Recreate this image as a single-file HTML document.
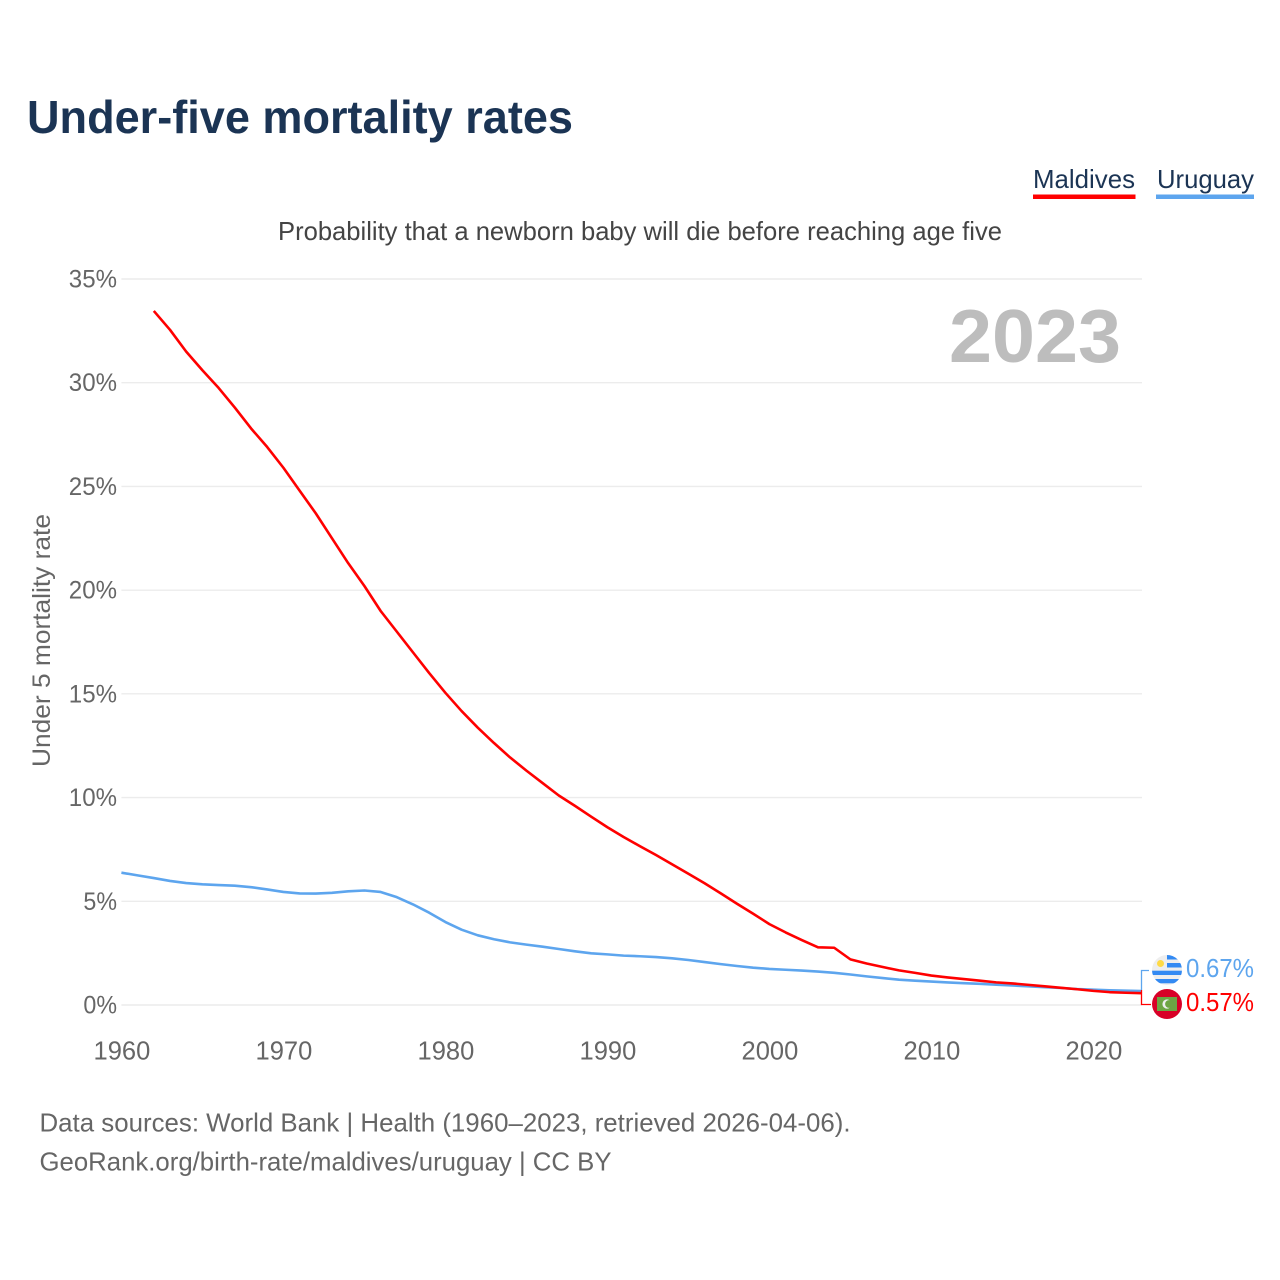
<!DOCTYPE html>
<html lang="en">
<head>
<meta charset="utf-8">
<title>Under-five mortality rates</title>
<style>
html,body{margin:0;padding:0;background:#fff;width:1280px;height:1280px;overflow:hidden}
svg{display:block}
text{font-family:"Liberation Sans",sans-serif}
</style>
</head>
<body>
<svg id="chart" xmlns="http://www.w3.org/2000/svg" width="1280" height="1280" viewBox="0 0 1280 1280">
  <rect width="1280" height="1280" fill="#fff"/>
  <text x="27" y="133" font-size="46" font-weight="700" fill="#1b3454" textLength="546" lengthAdjust="spacingAndGlyphs">Under-five mortality rates</text>

  <g>
    <text x="1033" y="188" font-size="26" fill="#1b3454" textLength="102" lengthAdjust="spacingAndGlyphs">Maldives</text>
    <rect x="1033" y="194.5" width="102.5" height="4.5" fill="#ff0000"/>
  </g>
  <g>
    <text x="1157" y="188" font-size="26" fill="#1b3454" textLength="97" lengthAdjust="spacingAndGlyphs">Uruguay</text>
    <rect x="1156" y="194.5" width="98" height="4.5" fill="#5da5ee"/>
  </g>

  <text x="278" y="240" font-size="26" fill="#444" textLength="724" lengthAdjust="spacingAndGlyphs">Probability that a newborn baby will die before reaching age five</text>

  <text transform="translate(50,767) rotate(-90)" font-size="25" fill="#666" textLength="253" lengthAdjust="spacingAndGlyphs">Under 5 mortality rate</text>

  <g id="grid"></g>
  <g id="yticks"></g>
  <g id="xticks"></g>

  <text x="949" y="362" font-size="75" font-weight="700" fill="#bdbdbd" textLength="172" lengthAdjust="spacingAndGlyphs">2023</text>

  <g id="lines"></g>

  <path d="M1141.5 990V970.5H1149" fill="none" stroke="#5da5ee" stroke-width="1.3"/>
  <path d="M1141.5 990V1004.5H1151" fill="none" stroke="#ff0000" stroke-width="1.3"/>

  <defs>
    <clipPath id="clip-uy"><circle cx="1167" cy="970" r="15"/></clipPath>
    <clipPath id="clip-mv"><circle cx="1167" cy="1004" r="15"/></clipPath>
  </defs>
  <g clip-path="url(#clip-uy)">
    <rect x="1152" y="955" width="30" height="30" fill="#eeeeee"/>
    <rect x="1167" y="955" width="15" height="4.5" fill="#338af3"/>
    <rect x="1167" y="963" width="15" height="4.5" fill="#338af3"/>
    <rect x="1152" y="970.7" width="30" height="4.3" fill="#338af3"/>
    <rect x="1152" y="979" width="30" height="4.3" fill="#338af3"/>
    <circle cx="1160.5" cy="963.5" r="3.5" fill="#ffda44"/>
  </g>
  <g clip-path="url(#clip-mv)">
    <rect x="1152" y="989" width="30" height="30" fill="#d80027"/>
    <rect x="1157" y="997" width="20" height="14" fill="#6da544"/>
    <circle cx="1167" cy="1004" r="4.6" fill="#eeeeee"/>
    <circle cx="1169" cy="1004" r="3.9" fill="#6da544"/>
  </g>

  <text x="1186" y="977" font-size="25.5" fill="#5da5ee" textLength="68" lengthAdjust="spacingAndGlyphs">0.67%</text>
  <text x="1186" y="1011" font-size="25.5" fill="#ff0000" textLength="68" lengthAdjust="spacingAndGlyphs">0.57%</text>

  <text x="39.5" y="1131.5" font-size="26" fill="#666" textLength="811" lengthAdjust="spacingAndGlyphs">Data sources: World Bank | Health (1960–2023, retrieved 2026-04-06).</text>
  <text x="39.5" y="1170.5" font-size="26" fill="#666" textLength="572" lengthAdjust="spacingAndGlyphs">GeoRank.org/birth-rate/maldives/uruguay | CC BY</text>
</svg>
<script>
const yearStart = 1960;
const yearEnd = 2023;
const maldivesFirstYear = 1962;
const xTickYears = [1960, 1970, 1980, 1990, 2000, 2010, 2020];
const yTickValues = [0, 5, 10, 15, 20, 25, 30, 35];
const maldivesValues = [33.46, 32.55, 31.5, 30.6, 29.75, 28.8, 27.8, 26.9, 25.9, 24.8, 23.7, 22.5, 21.3, 20.2, 19.0, 18.0, 17.0, 16.0, 15.05, 14.17, 13.37, 12.63, 11.93, 11.3, 10.7, 10.1, 9.6, 9.08, 8.57, 8.1, 7.66, 7.23, 6.78, 6.33, 5.87, 5.38, 4.88, 4.4, 3.9, 3.5, 3.13, 2.78, 2.76, 2.2, 2.0, 1.83, 1.67, 1.55, 1.42, 1.33, 1.25, 1.17, 1.09, 1.04, 0.97, 0.9, 0.83, 0.76, 0.68, 0.62, 0.59, 0.57];
const uruguayValues = [6.38, 6.25, 6.12, 5.98, 5.88, 5.82, 5.78, 5.75, 5.68, 5.57, 5.45, 5.38, 5.37, 5.41, 5.48, 5.52, 5.45, 5.2, 4.85, 4.45, 4.0, 3.63, 3.36, 3.17, 3.02, 2.91, 2.81, 2.7, 2.59, 2.49, 2.44, 2.38, 2.35, 2.31, 2.25, 2.17, 2.07, 1.97, 1.88, 1.8, 1.74, 1.7, 1.66, 1.61, 1.55, 1.47, 1.38, 1.3, 1.22, 1.17, 1.13, 1.09, 1.05, 1.02, 0.98, 0.94, 0.9, 0.86, 0.82, 0.77, 0.74, 0.71, 0.69, 0.67];

const SVG_NS = 'http://www.w3.org/2000/svg';
const plotLeft = 121.4;
const plotRight = 1142;
const plotBottom = 1005;
const plotTop = 279;
const yMax = 35;

function xScale(year) {
  return plotLeft + (year - yearStart) * (plotRight - plotLeft) / (yearEnd - yearStart);
}
function yScale(value) {
  return plotBottom - value * (plotBottom - plotTop) / yMax;
}

const grid = document.getElementById('grid');
const yticks = document.getElementById('yticks');
const xticks = document.getElementById('xticks');
const lines = document.getElementById('lines');

yTickValues.forEach(function (v) {
  const line = document.createElementNS(SVG_NS, 'line');
  
  
  line.setAttribute('x1', plotLeft);
  line.setAttribute('x2', plotRight);
  line.setAttribute('y1', yScale(v));
  line.setAttribute('y2', yScale(v));
  line.setAttribute('stroke', '#ececec');
  line.setAttribute('stroke-width', '1.4');
  grid.appendChild(line);

  const label = document.createElementNS(SVG_NS, 'text');
  
  
  label.setAttribute('x', 117);
  label.setAttribute('y', yScale(v) + 8.5);
  label.setAttribute('text-anchor', 'end');
  label.setAttribute('font-size', '25');
  label.setAttribute('fill', '#666');
  label.setAttribute('textLength', 19 + 14.6 * String(v).length);
  label.setAttribute('lengthAdjust', 'spacingAndGlyphs');
  label.textContent = v + '%';
  yticks.appendChild(label);
});

xTickYears.forEach(function (year) {
  const label = document.createElementNS(SVG_NS, 'text');
  
  
  label.setAttribute('x', xScale(year) + 0.5);
  label.setAttribute('y', 1059.5);
  label.setAttribute('text-anchor', 'middle');
  label.setAttribute('font-size', '25.5');
  label.setAttribute('fill', '#666');
  label.textContent = year;
  xticks.appendChild(label);
});

function buildPath(values, firstYear) {
  return values.map(function (v, i) {
    return (i === 0 ? 'M' : 'L') + xScale(firstYear + i).toFixed(2) + ' ' + yScale(v).toFixed(2);
  }).join('');
}

const maldivesLine = document.createElementNS(SVG_NS, 'path');


maldivesLine.setAttribute('d', buildPath(maldivesValues, maldivesFirstYear));
maldivesLine.setAttribute('fill', 'none');
maldivesLine.setAttribute('stroke', '#ff0000');
maldivesLine.setAttribute('stroke-width', '2.6');
maldivesLine.setAttribute('stroke-linejoin', 'round');
lines.appendChild(maldivesLine);

const uruguayLine = document.createElementNS(SVG_NS, 'path');


uruguayLine.setAttribute('d', buildPath(uruguayValues, yearStart));
uruguayLine.setAttribute('fill', 'none');
uruguayLine.setAttribute('stroke', '#5da5ee');
uruguayLine.setAttribute('stroke-width', '2.6');
uruguayLine.setAttribute('stroke-linejoin', 'round');
lines.insertBefore(uruguayLine, maldivesLine);
</script>
</body>
</html>
